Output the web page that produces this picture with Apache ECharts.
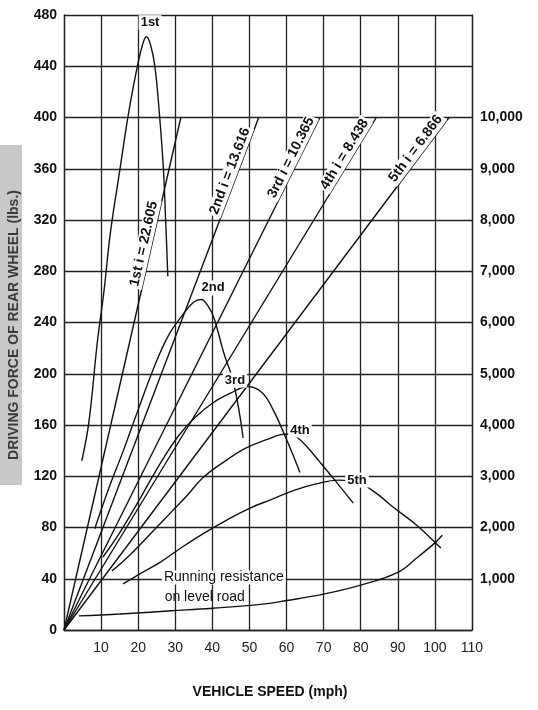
<!DOCTYPE html>
<html><head><meta charset="utf-8">
<script src="https://cdn.jsdelivr.net/npm/echarts@6/dist/echarts.min.js"></script>
<style>html,body{margin:0;padding:0;background:#fff}#c{width:538px;height:710px}</style>
</head><body><div id="c"></div>
<script>
// ---- data ----
const speedTicks = [0,10,20,30,40,50,60,70,80,90,100,110];
const forceTicks = [0,40,80,120,160,200,240,280,320,360,400,440,480];
const rpmTicks = [1000,2000,3000,4000,5000,6000,7000,8000,9000,10000];
const gearNames = ['1st','2nd','3rd','4th','5th'];
const gearRatios = ['22.605','13.616','10.365','8.438','6.866'];
// vehicle speed (mph) at 10,000 rpm for each gear (straight lines from origin)
const gearSpeedAt10000 = [31.5, 52.5, 69.0, 84.2, 103.8];

const force1st = [[4.8,132],[6.7,162],[9,225],[10.8,265],[12.5,310],[15,358],[17.5,405],[20,443],[21.2,457],[22.2,463],[23.3,457],[24.5,440],[25.8,400],[26.8,360],[27.4,320],[28,276]];
const force2nd = [[8.3,79],[12,110],[16,140],[20,172],[24,203],[28,229],[32,246],[35,256],[37,258],[39,252],[40.5,243],[43,217],[45.8,192],[48.3,150]];
const force3rd = [[10.5,57],[14.6,74],[20,100],[23.5,118],[27,135],[31,152],[35.4,166],[40,177],[45,185],[49.5,190],[53.5,185],[56.7,170],[59.5,152],[61.7,137],[63.6,123]];
const force4th = [[12.9,46],[17.9,59],[24.6,79],[28.9,92],[33.2,105],[37.5,119],[43.5,132],[49,142],[55,149],[58.5,152.5],[61,153],[63,150],[65.5,143],[69,131],[73,117],[78,99]];
const force5th = [[15.9,36],[20,43],[26,53],[32,65],[38,76],[44,86],[50,95],[56,102],[62,109],[68,114],[74,117],[80,114],[84.5,106],[88.7,96],[95,82],[100,68.5],[101.6,64]];
const resistance = [[4,11],[15,12.5],[29,15],[40,17],[53,20],[60,23],[70,28],[80,35],[90,45],[95,56],[100,68],[102,74]];

// label anchors (speed mph, force lbs)
const curveLabelPos = [[23.2,474],[40.2,267],[46.1,195],[63.6,156],[79,117]];
const rpmLabelAt = [7500, 8900, 9150, 9200, 9300];
const resistanceLabel = ['Running resistance','on level road'];
const resistanceLabelPos = [[26.4,41],[26.6,26]];
const xTitle = 'VEHICLE SPEED (mph)';
const yTitle = 'DRIVING FORCE OF REAR WHEEL (lbs.)';

// ---- chart ----
const chart = echarts.init(document.getElementById('c'), null, {renderer:'canvas'});
const FONT = '"Liberation Sans", Arial, sans-serif';
const lineStyle = {color:'#111', width:1.4};
const forceSets = [force1st, force2nd, force3rd, force4th, force5th];

const series = [];
gearSpeedAt10000.forEach((s,i) => {
  series.push({type:'line', yAxisIndex:1, data:[[0,0],[s,10000]], symbol:'none',
    lineStyle:lineStyle, silent:true, z:3});
});
forceSets.forEach((d,i) => {
  series.push({type:'line', yAxisIndex:0, data:d, symbol:'none', smooth:0.4,
    lineStyle:lineStyle, silent:true, z:3});
});
series.push({type:'line', yAxisIndex:0, data:resistance, symbol:'none', smooth:0.4,
  lineStyle:lineStyle, silent:true, z:3});

const gridLine = {show:true, lineStyle:{color:'#222', width:1.3}};
chart.setOption({
  animation:false,
  backgroundColor:'#fff',
  grid:{left:64, right:66, top:15, bottom:80, containLabel:false},
  xAxis:{type:'value', min:speedTicks[0], max:speedTicks[speedTicks.length-1], interval:10,
    axisLine:{show:true, lineStyle:{color:'#222', width:1.3}}, axisTick:{show:false},
    splitLine:gridLine,
    axisLabel:{margin:11, fontFamily:FONT, fontSize:14, color:'#222',
      formatter:v => v === 0 ? '' : String(v)}},
  yAxis:[
    {type:'value', min:forceTicks[0], max:forceTicks[forceTicks.length-1], interval:40,
      axisLine:{show:true, lineStyle:{color:'#222', width:1.3}}, axisTick:{show:false},
      splitLine:gridLine,
      axisLabel:{margin:7, fontFamily:FONT, fontSize:14, fontWeight:'bold', color:'#111'}},
    {type:'value', position:'right', min:0, max:12000, interval:1000,
      axisLine:{show:true, lineStyle:{color:'#222', width:1.3}}, axisTick:{show:false},
      splitLine:{show:false},
      axisLabel:{margin:8, fontFamily:FONT, fontSize:14, fontWeight:'bold', color:'#111',
        formatter:v => rpmTicks.indexOf(v) >= 0 ? String(v).replace(/\B(?=(\d{3})+(?!\d))/g, ',') : ''}}
  ],
  series:series
});

// ---- text annotations anchored to data coordinates ----
const graphics = [];
const px = (p, yi) => chart.convertToPixel({xAxisIndex:0, yAxisIndex:yi||0}, p);
gearNames.forEach((g,i) => {
  const p = px(curveLabelPos[i]);
  graphics.push({type:'text', x:p[0], y:p[1], z:100,
    style:{text:g, font:'bold 13px ' + FONT, fill:'#111', align:'center', verticalAlign:'middle',
      backgroundColor:'#fff', padding:[1,2]}});
  const o = px([0,0],1), t = px([gearSpeedAt10000[i],10000],1);
  const ang = Math.atan2(o[1]-t[1], t[0]-o[0]);
  const f = rpmLabelAt[i]/10000;
  const a = px([gearSpeedAt10000[i]*f, rpmLabelAt[i]],1);
  graphics.push({type:'text', x:a[0], y:a[1], rotation:ang, z:100,
    style:{text:g + ' i = ' + gearRatios[i], font:'bold 14px ' + FONT, fill:'#111',
      align:'center', verticalAlign:'bottom', backgroundColor:'#fff', padding:[0,2,1,2]}});
});
resistanceLabel.forEach((t,i) => {
  const rp = px(resistanceLabelPos[i]);
  graphics.push({type:'text', x:rp[0], y:rp[1], z:100,
    style:{text:t, font:'14px ' + FONT, fill:'#111', align:'left', verticalAlign:'middle',
      backgroundColor: i === 0 ? '#fff' : null, padding:[0,2]}});
});
graphics.push({type:'text', x:270, y:692, z:100,
  style:{text:xTitle, font:'bold 14px ' + FONT, fill:'#111', align:'center', verticalAlign:'middle'}});
graphics.push({type:'rect', shape:{x:0, y:145, width:22, height:340}, z:1,
  style:{fill:'#c8c8c8'}});
graphics.push({type:'text', x:14, y:325, rotation:Math.PI/2, z:100,
  style:{text:yTitle, font:'bold 14px ' + FONT, fill:'#3a3a3a', align:'center', verticalAlign:'middle'}});
chart.setOption({graphic:graphics});
</script></body></html>
